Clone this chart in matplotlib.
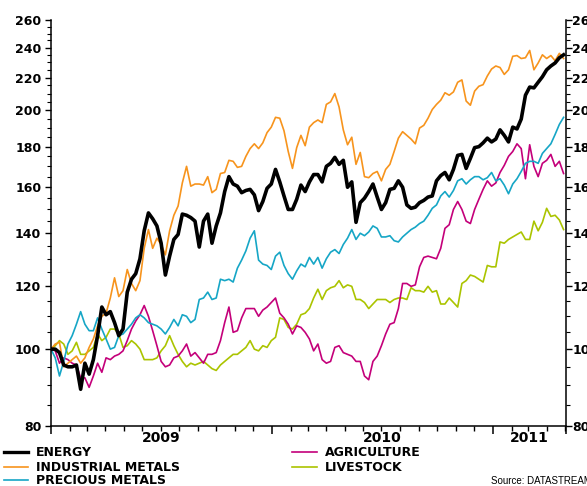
import numpy as np
import matplotlib
matplotlib.use("Agg")
import matplotlib.pyplot as plt
import matplotlib.dates as mdates
from matplotlib.lines import Line2D
from matplotlib.ticker import FixedLocator, FuncFormatter, NullFormatter

plt.rcParams["font.family"] = ["DejaVu Sans"]
plt.rcParams["font.weight"] = "bold"

# weekly index values, 1 Jan 2009 = 100
dates = np.datetime64("2009-01-01") + np.arange(122) * 7

energy = [
    100, 100, 99, 95.5, 95, 95, 95.5, 89, 96, 93,
    97, 104, 113, 110.5, 111.5, 108, 104, 106, 118, 122.5,
    124.5, 130, 141, 148.5, 146, 143, 136, 124, 131, 137.5,
    139.5, 148, 147.5, 146.5, 145, 134.5, 145, 148, 136, 143,
    148.5, 158, 165, 161.5, 160.5, 157.5, 158.5, 159, 156.5, 149.5,
    153.5, 159.5, 161.5, 168.5, 162.5, 156, 150, 150, 154.5, 161,
    158, 162.5, 166, 166, 162.5, 170, 171.5, 174.5, 171, 173,
    160, 162.5, 144.5, 153, 155, 158, 161.5, 155.5, 150, 153,
    159, 159.5, 163, 160, 152, 150.5, 151, 153, 154, 155.5,
    156, 163, 165.5, 167, 163.5, 168.5, 175.5, 176, 169, 174,
    179.5, 180, 182, 184.5, 182.5, 184, 189, 186, 182.5, 190.5,
    189.5, 195, 209, 214, 213.5, 217, 220.5, 225, 227.5, 229.5,
    233, 235,
]
industrial = [
    100, 101.5, 102, 95, 96, 97, 98, 96, 97.5, 100.5,
    103, 107, 110, 111, 116, 123, 116.5, 118.5, 126, 121,
    118.5, 122, 134, 141.5, 134, 138, 135.5, 131.5, 141, 147.5,
    151.5, 162, 170, 160.5, 161.5, 161.5, 161, 165, 157.5, 159,
    166.5, 167, 173, 172.5, 169.5, 170, 175, 179, 181.5, 179,
    182, 187.5, 190.5, 196, 195.5, 188.5, 177.5, 169, 179.5, 186,
    180.5, 190.5, 193, 194.5, 193, 203.5, 205, 210, 202, 189,
    181, 185, 171, 177, 165, 164.5, 166.5, 167.5, 163, 168.5,
    171, 177.5, 184.5, 188, 186, 184, 181.5, 190, 191.5, 195.5,
    200.5, 203.5, 206, 210.5, 209, 211, 217, 218.5, 205.5, 203,
    211.5, 214.5, 215.5, 221, 225.5, 227.5, 226.5, 222, 225, 234,
    234.5, 232.5, 233, 238, 225, 229.5, 235, 232.5, 234.5, 231,
    236, 232.5,
]
precious = [
    100, 97.5, 92.5, 96.5, 101.5, 104, 107.5, 111.5, 107.5, 105.5,
    105.5, 109.5, 106, 103, 100, 100.5, 104, 104.5, 106, 107.5,
    109.5, 110.5, 109.5, 108, 107.5, 107, 106, 104.5, 106.5, 109,
    107, 110.5, 110, 108, 109, 115.5, 116, 118, 115.5, 116,
    122.5, 122, 122.5, 121.5, 126.5, 129.5, 133, 138, 141, 129.5,
    128, 127.5, 126, 131, 132.5, 127.5, 124.5, 122.5, 125.5, 128,
    127, 130.5, 128, 130.5, 126.5, 130, 132.5, 133.5, 132, 135.5,
    138, 141.5, 137.5, 140, 139, 140.5, 143, 142, 138.5, 138.5,
    139, 137, 136.5, 138.5, 140, 141.5, 142.5, 144, 145, 147.5,
    150.5, 152, 156, 158, 155.5, 158.5, 163, 164, 161.5, 163.5,
    165, 165, 163.5, 164.5, 167, 163, 164, 161, 157, 161.5,
    164, 167.5, 171.5, 172.5, 172.5, 171.5, 176.5, 179, 181.5, 186.5,
    192, 196,
]
agriculture = [
    100, 99.5, 96, 97.5, 97, 96, 95.5, 92, 92, 89.5,
    92.5, 96, 93.5, 97.5, 97, 98, 98.5, 99.5, 102.5, 106,
    108.5, 110.5, 113.5, 110, 105.5, 101, 96.5, 95, 95.5, 97.5,
    98, 99.5, 101.5, 98, 99, 97.5, 96, 98.5, 98.5, 99,
    102.5, 108, 113, 105, 105.5, 109.5, 112.5, 112.5, 112.5, 110,
    112, 113, 114.5, 116, 111, 109.5, 107.5, 104.5, 107, 106.5,
    105, 103, 99.5, 101.5, 97, 96, 96.5, 100.5, 101, 99,
    98.5, 98, 96.5, 96.5, 92.5, 91.5, 96.5, 98, 101, 104.5,
    107.5, 108, 112.5, 121, 121, 120, 120.5, 127, 130.5, 131,
    130.5, 130, 134, 142, 143.5, 150, 153.5, 150, 145, 144,
    150, 154.5, 159, 163, 160.5, 162, 167, 170.5, 175, 177.5,
    181.5, 179, 164, 181, 170, 165, 171.5, 173, 176, 170,
    172.5, 166.5,
]
livestock = [
    100, 101, 102.5, 101.5, 98.5, 99.5, 102, 98.5, 98.5, 99.5,
    100.5, 104.5, 102.5, 103.5, 106, 106, 104.5, 100.5, 101, 102.5,
    101.5, 100, 97, 97, 97, 97.5, 99.5, 101, 104, 101,
    98.5, 96.5, 95, 96, 95.5, 96, 96.5, 95.5, 94.5, 94,
    95.5, 96.5, 97.5, 98.5, 98.5, 99.5, 100.5, 102.5, 100, 99.5,
    101, 100.5, 102.5, 103.5, 109.5, 109, 106.5, 106, 107.5, 110.5,
    111, 112.5, 116, 119, 115.5, 118.5, 119.5, 120, 122, 119.5,
    120.5, 120, 115.5, 115.5, 114.5, 112.5, 114, 115.5, 115.5, 115.5,
    114.5, 115.5, 116, 116, 115.5, 119.5, 118.5, 118.5, 118, 120,
    118, 118.5, 114, 114, 116, 114.5, 113, 121, 122, 124,
    123.5, 122.5, 121.5, 127.5, 127, 127, 136.5, 136, 137.5, 138.5,
    139.5, 140.5, 137.5, 137.5, 145, 141, 144.5, 150.5, 147, 147.5,
    145.5, 141.5,
]

names = ["ENERGY", "INDUSTRIAL METALS", "PRECIOUS METALS", "AGRICULTURE", "LIVESTOCK"]
colors = ["#000000", "#f7941d", "#16a6c6", "#c4007a", "#abc400"]
widths = [2.6, 1.2, 1.2, 1.2, 1.2]
series = [energy, industrial, precious, agriculture, livestock]

W, H = 587, 486
fig = plt.figure(figsize=(W / 100, H / 100), dpi=100)
ax = fig.add_axes([51 / W, 60 / H, 515 / W, 406 / H])

# thin lines first, energy on top
for i in [4, 3, 2, 1, 0]:
    ax.plot(dates, series[i], color=colors[i], lw=widths[i], solid_joinstyle="round")

yt = list(range(80, 261, 20))
yminor = [v for v in range(85, 260, 5) if v % 20]


def setup_y(a, pad):
    a.set_yscale("log")
    a.set_ylim(80, 260)
    a.yaxis.set_major_locator(FixedLocator(yt))
    a.yaxis.set_minor_locator(FixedLocator(yminor))
    a.yaxis.set_major_formatter(FuncFormatter(lambda v, p: f"{v:.0f}"))
    a.yaxis.set_minor_formatter(NullFormatter())
    a.tick_params(axis="y", which="major", direction="out", length=4, width=1, pad=pad, labelsize=9)
    a.tick_params(axis="y", which="minor", direction="out", length=3, width=0.8)


setup_y(ax, 3)
start, end = np.datetime64("2009-01-01"), np.datetime64("2011-05-02")
ax.set_xlim(start, end)
years = [np.datetime64("2009-01-01"), np.datetime64("2010-01-01"), np.datetime64("2011-01-01")]
ax.xaxis.set_major_locator(FixedLocator(mdates.date2num(years + [end])))
ax.xaxis.set_minor_locator(mdates.MonthLocator())
ax.xaxis.set_major_formatter(NullFormatter())
ax.tick_params(axis="x", which="major", direction="out", length=6, width=1.1)
ax.tick_params(axis="x", which="minor", direction="out", length=3.5, width=1)

ax2 = ax.twinx()
setup_y(ax2, 0.5)

for s in ["top", "right"]:
    ax.spines[s].set_visible(False)
for s in ["top", "left", "bottom"]:
    ax2.spines[s].set_visible(False)
for a in (ax, ax2):
    for s in a.spines.values():
        s.set_linewidth(1.1)

# year labels centred in each year's visible span
bounds = years + [end]
for i, lbl in enumerate(["2009", "2010", "2011"]):
    a0, a1 = mdates.date2num(bounds[i]), mdates.date2num(bounds[i + 1])
    ax.text((a0 + a1) / 2, -0.03, lbl, transform=ax.get_xaxis_transform(),
            ha="center", va="center", fontsize=10)

# legend
rows = [(4, 28, 36, 452), (4, 28, 36, 467), (4, 28, 36, 480), (292, 317, 325, 452), (292, 317, 325, 467)]
for i, (x0, x1, xt, y) in enumerate(rows):
    fig.add_artist(Line2D([x0 / W, x1 / W], [1 - y / H, 1 - y / H], transform=fig.transFigure,
                          color=colors[i], lw=widths[i] if i else 2.4))
    fig.text(xt / W, 1 - y / H, names[i], va="center", ha="left", fontsize=9)

fig.text(491 / W, 1 - 481 / H, "Source: DATASTREAM", va="center", ha="left",
         fontsize=7, fontweight="normal", family="Liberation Sans")

fig.savefig("out.png", dpi=100)
